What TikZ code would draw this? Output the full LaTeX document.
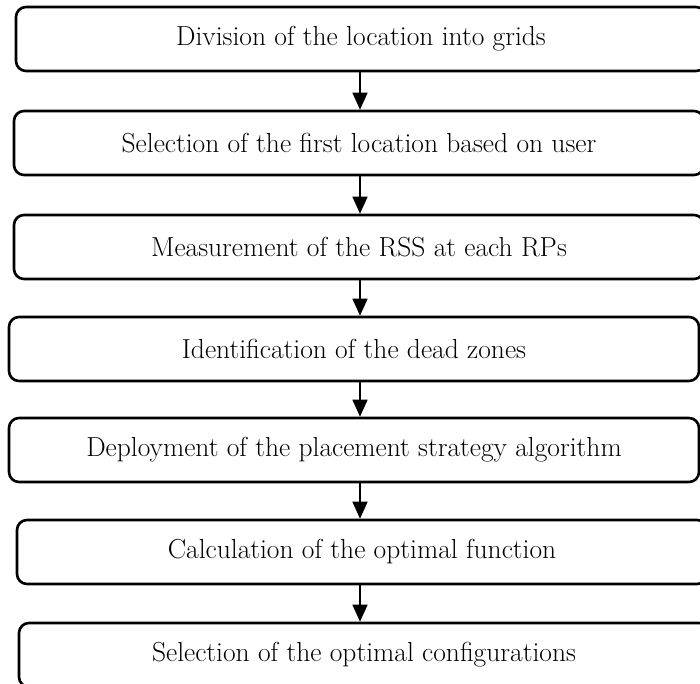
\documentclass[tikz,border=0pt]{standalone}
\usetikzlibrary{arrows.meta}
\begin{document}
\begin{tikzpicture}[x=1pt,y=-1pt,
  stepbox/.style={draw=black, line width=2.6pt, rounded corners=10pt,
    minimum width=690pt, minimum height=64pt, inner sep=0pt,
    font=\fontsize{27.5}{32}\selectfont},
  flowarrow/.style={line width=1.4pt, -{Triangle[width=15pt,length=17pt]}}]
\useasboundingbox (0,0) rectangle (700,683);
\clip (0,0) rectangle (700,683);
\node[stepbox] (b1) at (361,39)  {Division of the location into grids};
\node[stepbox] (b2) at (359,143) {Selection of the first location based on user};
\node[stepbox] (b3) at (359,247) {Measurement of the RSS at each RPs};
\node[stepbox] (b4) at (354,349) {Identification of the dead zones};
\node[stepbox] (b5) at (354,450) {Deployment of the placement strategy algorithm};
\node[stepbox] (b6) at (362,552) {Calculation of the optimal function};
\node[stepbox] (b7) at (364,655) {Selection of the optimal configurations};
\coordinate (ax) at (360,0);
\foreach \a/\b in {b1/b2,b2/b3,b3/b4,b4/b5,b5/b6,b6/b7}
  \draw[flowarrow] (\a.south -| ax) -- (\b.north -| ax);
\end{tikzpicture}
\end{document}
